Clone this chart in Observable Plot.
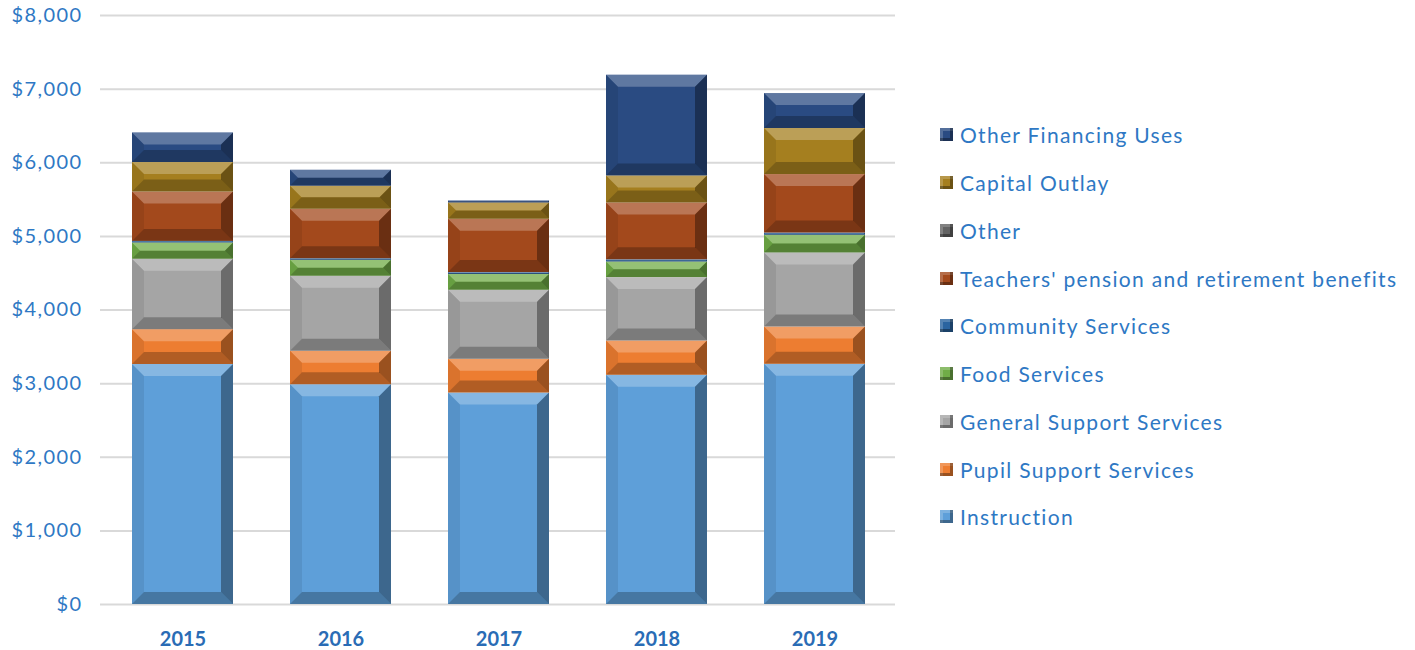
<!DOCTYPE html>
<html>
<head>
<meta charset="utf-8">
<script src="https://cdn.jsdelivr.net/npm/d3@7"></script>
<script src="https://cdn.jsdelivr.net/npm/@observablehq/plot@0.6"></script>
<style>
  html, body { margin: 0; padding: 0; background: #fff; }
  #wrap { position: relative; width: 1415px; height: 650px; font-family: Lato, "Open Sans", sans-serif; }
  #chart { position: absolute; left: 0; top: 0; }
  #legend { position: absolute; left: 940px; top: 111px; }
  .item { display: flex; align-items: center; height: 47.75px; font-size: 21px; letter-spacing: 1.3px; color: #2e78c4; white-space: nowrap; }
  .sw { width: 13px; height: 13px; margin-right: 7px; box-shadow: inset -3px -3px 0 rgba(0,0,0,0.35), inset 3px 3px 0 rgba(255,255,255,0.2); }
</style>
</head>
<body>
<div id="wrap"><div id="chart"></div><div id="legend"></div></div>
<script>
const years = ["2015", "2016", "2017", "2018", "2019"];
const seriesNames = ["Instruction", "Pupil Support Services", "General Support Services", "Food Services", "Community Services", "Teachers' pension and retirement benefits", "Other", "Capital Outlay", "Other Financing Uses"];
const seriesColors = ["#5e9fd9", "#ed7d31", "#a5a5a5", "#70ad47", "#2a64a0", "#a3491c", "#636363", "#a57f1f", "#2a4b82"];
const instruction = [3260, 2985, 2872, 3113, 3262];
const pupilSupport = [473, 454, 458, 466, 507];
const generalSupport = [956, 1019, 938, 861, 1006];
const foodServices = [221, 217, 215, 212, 240];
const communityServices = [22, 22, 25, 30, 30];
const teachersPension = [671, 671, 724, 772, 795];
const otherSpending = [0, 0, 0, 0, 0];
const capitalOutlay = [400, 313, 222, 367, 625];
const otherFinancing = [402, 217, 27, 1368, 475];
const yTicks = [0, 1000, 2000, 3000, 4000, 5000, 6000, 7000, 8000];

const seriesValues = [instruction, pupilSupport, generalSupport, foodServices, communityServices, teachersPension, otherSpending, capitalOutlay, otherFinancing];
const data = [];
seriesNames.forEach((s, i) => years.forEach((yr, j) => data.push({year: yr, series: s, value: seriesValues[i][j]})));

const textColor = "#2e78c4";
const chart = Plot.plot({
  width: 910,
  height: 650,
  marginLeft: 100,
  marginRight: 15,
  marginTop: 15,
  marginBottom: 46,
  style: {fontFamily: "Lato, 'Open Sans', sans-serif", fontSize: "20px", color: textColor, background: "transparent"},
  x: {domain: years, paddingInner: 0.36, paddingOuter: 0.18, insetLeft: 3, label: null},
  y: {domain: [0, 8000], label: null},
  color: {domain: seriesNames, range: seriesColors},
  marks: [
    Plot.ruleY(yTicks, {stroke: "#d9d9d9", strokeWidth: 2}),
    Plot.barY(data, {x: "year", y: "value", fill: "series", order: seriesNames}),
    Plot.axisY({ticks: yTicks, tickSize: 0, tickPadding: 18, tickFormat: d => "$" + d3.format(",")(d), fill: textColor, fontSize: 20}),
    Plot.axisX({tickSize: 0, tickPadding: 27, fontWeight: "bold", fill: "#2a6cb5", fontSize: 20})
  ]
});
chart.querySelectorAll('g[aria-label="y-axis tick label"] text').forEach(t => t.setAttribute("letter-spacing", "1.4"));
document.getElementById("chart").appendChild(chart);

// bevel effect derived from the rendered bar rects
const ns = "http://www.w3.org/2000/svg";
chart.querySelectorAll('g[aria-label="bar"] rect').forEach(r => {
  const x = +r.getAttribute("x"), y = +r.getAttribute("y"), w = +r.getAttribute("width"), h = +r.getAttribute("height");
  if (!(h > 0)) return;
  const b = Math.min(12, h / 2, w / 2);
  const polys = [
    [[x, y], [x + w, y], [x + w - b, y + b], [x + b, y + b], "#ffffff", 0.25],
    [[x, y + h], [x + w, y + h], [x + w - b, y + h - b], [x + b, y + h - b], "#000000", 0.25],
    [[x + w, y], [x + w, y + h], [x + w - b, y + h - b], [x + w - b, y + b], "#000000", 0.35],
    [[x, y], [x, y + h], [x + b, y + h - b], [x + b, y + b], "#000000", 0.08]
  ];
  polys.forEach(p => {
    const el = document.createElementNS(ns, "polygon");
    el.setAttribute("points", p.slice(0, 4).map(q => q.join(",")).join(" "));
    el.setAttribute("fill", p[4]);
    el.setAttribute("fill-opacity", p[5]);
    r.parentNode.appendChild(el);
  });
});

const legend = document.getElementById("legend");
seriesNames.slice().reverse().forEach(s => {
  const i = seriesNames.indexOf(s);
  const it = document.createElement("div");
  it.className = "item";
  const sw = document.createElement("span");
  sw.className = "sw";
  sw.style.background = seriesColors[i];
  it.appendChild(sw);
  it.appendChild(document.createTextNode(s));
  legend.appendChild(it);
});
</script>
</body>
</html>
